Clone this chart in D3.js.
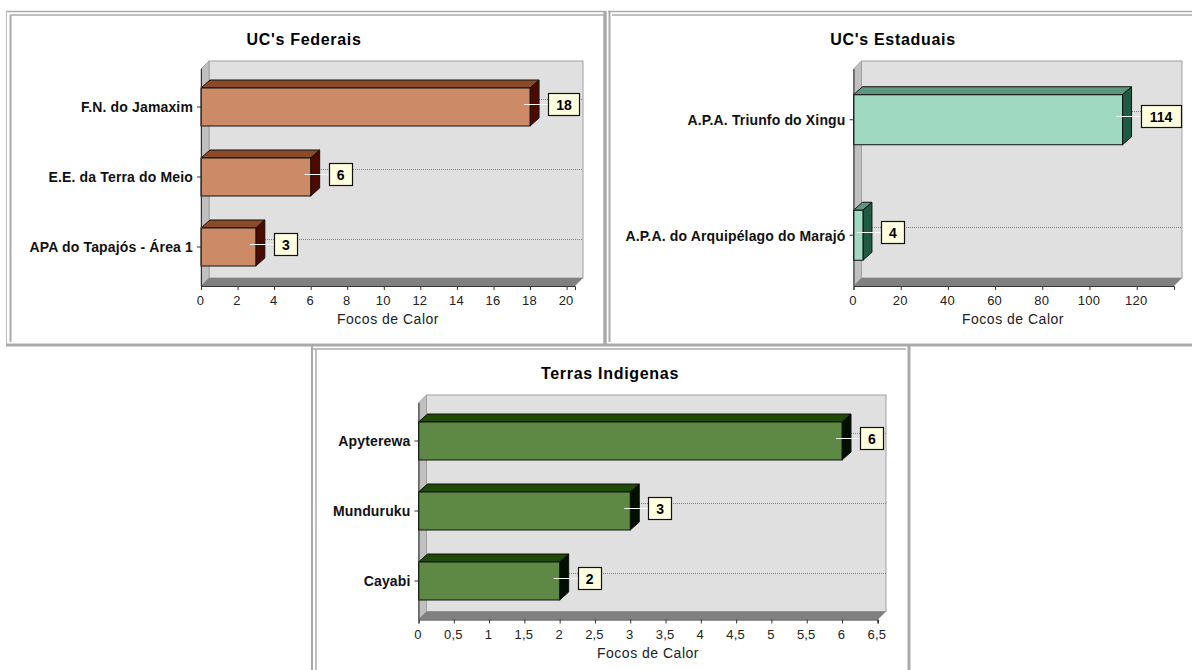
<!DOCTYPE html>
<html>
<head>
<meta charset="utf-8">
<script src="https://cdn.jsdelivr.net/npm/d3@7"></script>
<style>
  body { margin: 0; background: #fff; overflow: hidden; }
  text { font-family: "Liberation Sans", Arial, sans-serif; fill: #000; }
  .title { font-size: 16px; font-weight: bold; letter-spacing: .7px; text-anchor: middle; }
  .cat text { font-size: 14px; font-weight: bold; letter-spacing: .15px; fill: #111; }
  .val text { font-size: 13px; letter-spacing: .2px; fill: #222; }
  .axis-label { font-size: 14px; letter-spacing: .5px; text-anchor: middle; fill: #222; }
  .box-label { font-size: 14px; font-weight: bold; text-anchor: middle; }
</style>
</head>
<body>
<svg id="chart" width="1192" height="670"></svg>
<script>
const federalNames = ['F.N. do Jamaxim', 'E.E. da Terra do Meio', 'APA do Tapajós - Área 1'];
const federalValues = [18, 6, 3];
const federalTicks = [0, 2, 4, 6, 8, 10, 12, 14, 16, 18, 20];

const estadualNames = ['A.P.A. Triunfo do Xingu', 'A.P.A. do Arquipélago do Marajó'];
const estadualValues = [114, 4];
const estadualTicks = [0, 20, 40, 60, 80, 100, 120];

const indigenaNames = ['Apyterewa', 'Munduruku', 'Cayabi'];
const indigenaValues = [6, 3, 2];
const indigenaTicks = [0, 0.5, 1, 1.5, 2, 2.5, 3, 3.5, 4, 4.5, 5, 5.5, 6, 6.5];

const depth = 8;
const barDepth = 9;
const svg = d3.select('#chart');

// the page frames are plain table borders, so they are just straight rules
function rule(x1, y1, x2, y2, w, color) {
    svg.append('line')
        .attr('x1', x1).attr('y1', y1).attr('x2', x2).attr('y2', y2)
        .attr('stroke', color || '#aaa').attr('stroke-width', w);
}

function frames() {
    // federal
    rule(6, 11.5, 605, 11.5, 1.5);
    rule(10, 15, 603, 15, 1.5);
    rule(6.5, 11, 6.5, 346, 1, '#bbb');
    rule(10.5, 15, 10.5, 342, 2);
    rule(605, 11, 605, 345, 3.5);
    // estadual
    rule(608, 11.5, 1192, 11.5, 1.5);
    rule(612, 15, 1192, 15, 1.5);
    rule(609.5, 11, 609.5, 342, 2);
    rule(6, 345, 1192, 345, 3);
    // indigenas
    rule(312, 349, 906, 349, 1.5);
    rule(312, 345, 312, 670, 2);
    rule(316, 349, 316, 670, 1.5);
    rule(909, 345, 909, 670, 3);
}

function panel(o) {
    const x = d3.scaleLinear().domain([0, o.max]).range([o.left, o.right]);
    const y = d3.scaleBand().domain(o.names).range(o.band);
    const g = svg.append('g');
    const rows = o.names.map((name, i) => ({name, value: o.values[i]}));

    // back wall, side wall and floor
    g.append('rect')
        .attr('x', o.left + depth).attr('y', o.top - depth)
        .attr('width', o.right - o.left).attr('height', o.bottom - o.top)
        .attr('fill', '#e0e0e0').attr('stroke', '#a0a0a0');
    g.append('path')
        .attr('d', `M${o.left},${o.top}L${o.left + depth},${o.top - depth}V${o.bottom - depth}L${o.left},${o.bottom}Z`)
        .attr('fill', '#c0c0c0').attr('stroke', '#a0a0a0');
    g.append('path')
        .attr('d', `M${o.left},${o.bottom}L${o.left + depth},${o.bottom - depth}H${o.right + depth}L${o.right},${o.bottom}Z`)
        .attr('fill', '#808080');

    // dotted gridlines on the back wall
    const gridY = d => Math.floor(y(d.name) + y.bandwidth() / 2 - depth) + .5;
    g.append('g').selectAll('line').data(rows).join('line')
        .attr('x1', Math.round(o.left + depth)).attr('x2', Math.round(o.right + depth))
        .attr('y1', gridY).attr('y2', gridY)
        .attr('stroke', '#808080').attr('stroke-dasharray', '1,1');

    const bars = g.append('g').selectAll('g').data(rows).join('g')
        .attr('stroke', '#111').attr('stroke-width', 1);
    const barTop = d => y(d.name) + (y.bandwidth() - o.barHeight) / 2;

    bars.append('path')
        .attr('fill', o.colors[1])
        .attr('d', d => `M${o.left},${barTop(d)}l${barDepth},${-depth}H${x(d.value) + barDepth}l${-barDepth},${depth}Z`);
    bars.append('path')
        .attr('fill', o.colors[2])
        .attr('d', d => `M${x(d.value)},${barTop(d)}l${barDepth},${-depth}v${o.barHeight}l${-barDepth},${depth}Z`);
    bars.append('rect')
        .attr('fill', o.colors[0])
        .attr('x', o.left).attr('y', barTop)
        .attr('width', d => x(d.value) - o.left).attr('height', o.barHeight);

    // axes
    const axisX = g.append('g').attr('class', 'val')
        .attr('transform', `translate(0,${o.bottom})`)
        .call(d3.axisBottom(x).tickValues(o.ticks).tickSizeOuter(0).tickSize(4).tickPadding(6)
            .tickFormat(d => String(d).replace('.', ',')));
    const axisY = g.append('g').attr('class', 'cat')
        .attr('transform', `translate(${o.left},0)`)
        .call(d3.axisLeft(y).tickSize(4).tickSizeOuter(0).tickPadding(4));
    axisX.selectAll('path,line').attr('stroke', '#333');
    axisX.selectAll('text').attr('dx', -1);
    axisY.selectAll('path').attr('d', `M.5,${o.top}V${o.bottom}`).attr('stroke', '#333');
    axisY.selectAll('line').attr('stroke', '#333');
    axisY.selectAll('text').attr('dy', '0.38em');

    // value callouts
    const labelY = d => Math.floor(y(d.name) + y.bandwidth() / 2 - 3) + .5;
    const boxWidth = d => String(d.value).length === 1 ? 23 : String(d.value).length === 2 ? 31 : 40;
    const callouts = g.append('g').selectAll('g').data(rows).join('g');
    callouts.append('line')
        .attr('x1', d => x(d.value) - 6).attr('x2', d => x(d.value) + 18)
        .attr('y1', labelY).attr('y2', labelY)
        .attr('stroke', '#fff').attr('stroke-width', 1);
    callouts.append('rect')
        .attr('x', d => Math.round(x(d.value) + 18) + .5).attr('y', d => labelY(d) - 11)
        .attr('width', boxWidth).attr('height', 22)
        .attr('fill', '#ffffe0').attr('stroke', '#111').attr('stroke-width', 1.2);
    callouts.append('text').attr('class', 'box-label')
        .attr('x', d => x(d.value) + 18.5 + boxWidth(d) / 2).attr('y', d => labelY(d) + 5)
        .text(d => d.value);

    g.append('text').attr('class', 'title').attr('x', o.titleX).attr('y', o.top - 24).text(o.title);
    g.append('text').attr('class', 'axis-label').attr('x', o.labelX).attr('y', o.bottom + 38).text('Focos de Calor');
}

frames();

panel({title: "UC's Federais", names: federalNames, values: federalValues, ticks: federalTicks, max: 20.46,
    left: 201, right: 575, top: 69, bottom: 286, band: [72, 282], barHeight: 38, titleX: 304, labelX: 388,
    colors: ['#cd8a66', '#8b4b28', '#4f0a00']});
panel({title: "UC's Estaduais", names: estadualNames, values: estadualValues, ticks: estadualTicks, max: 135.8,
    left: 853.5, right: 1174, top: 69, bottom: 286, band: [62, 293], barHeight: 50, titleX: 893, labelX: 1013,
    colors: ['#9fd9c1', '#5f9680', '#1f5a43']});
panel({title: 'Terras Indigenas', names: indigenaNames, values: indigenaValues, ticks: indigenaTicks, max: 6.51,
    left: 418.5, right: 878, top: 403, bottom: 619.5, band: [406, 616], barHeight: 38, titleX: 610, labelX: 648,
    colors: ['#5d8945', '#1f4a05', '#000f00']});
</script>
</body>
</html>
